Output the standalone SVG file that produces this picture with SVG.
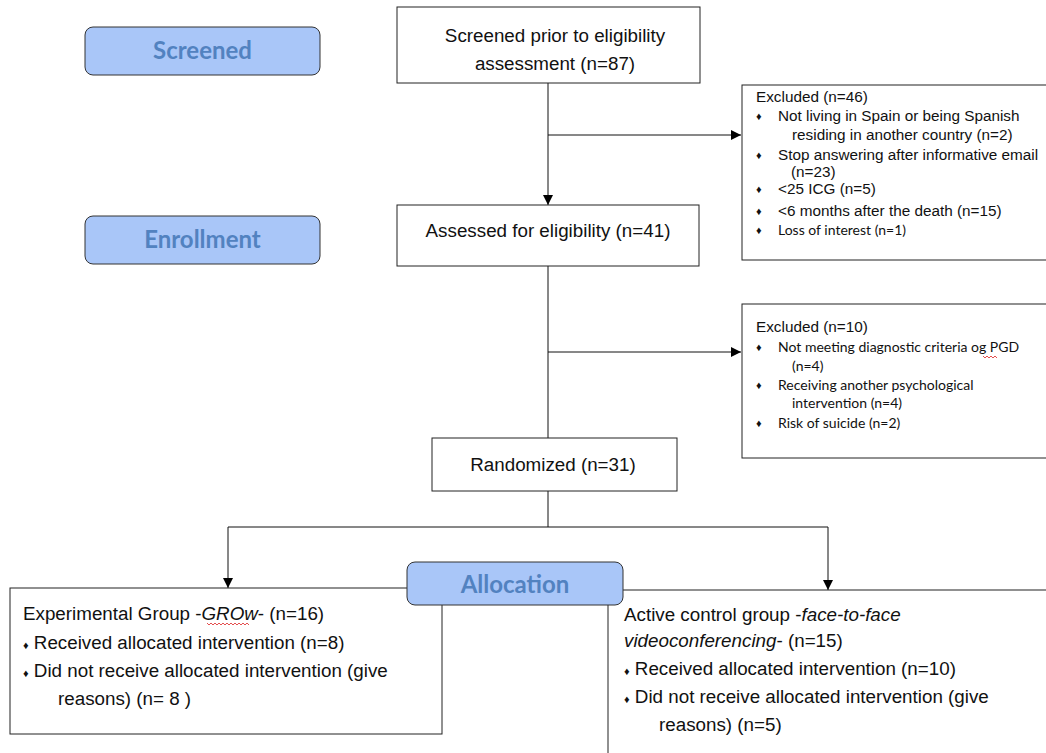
<svg xmlns="http://www.w3.org/2000/svg" width="1046" height="753" viewBox="0 0 1046 753">
<style>
.box{fill:#fff;stroke:#222;stroke-width:1}
.lab{fill:#a9c6f8;stroke:#333;stroke-width:1}
.labt{font-family:Lato,"Open Sans",sans-serif;font-weight:bold;font-size:24px;fill:#5282c0;text-anchor:middle}
.t{font-family:"Liberation Sans",Arial,sans-serif;font-size:18.8px;fill:#111}
.s{font-family:"Liberation Sans",Arial,sans-serif;font-size:15.3px;fill:#111}
.c{font-family:Lato,"Open Sans",sans-serif;font-size:14px;fill:#111}
.d{font-family:"Liberation Sans",Arial,sans-serif;font-size:11px;fill:#111}
.m{text-anchor:middle}
.ln{stroke:#111;stroke-width:1;fill:none}
.sq{stroke:#d22;stroke-width:0.8;fill:none}
</style>
<defs>
<marker id="ar" viewBox="0 0 10 10" refX="10" refY="5" markerWidth="10" markerHeight="10" markerUnits="userSpaceOnUse" orient="auto">
<path d="M0,0 L10,5 L0,10 z" fill="#000"/>
</marker>
</defs>
<g id="connectors">
<path class="ln" d="M548,83 V205" marker-end="url(#ar)"/>
<path class="ln" d="M548,135 H741" marker-end="url(#ar)"/>
<path class="ln" d="M548,266 V438"/>
<path class="ln" d="M548,352 H741" marker-end="url(#ar)"/>
<path class="ln" d="M548,491 V527"/>
<path class="ln" d="M228,527 H828"/>
<path class="ln" d="M228,527 V588" marker-end="url(#ar)"/>
<path class="ln" d="M828,527 V590" marker-end="url(#ar)"/>
</g>
<g id="label-screened">
<rect class="lab" x="85" y="27" width="235" height="48" rx="8"/>
<text class="labt" x="202.5" y="59">Screened</text>
</g>
<g id="label-enrollment">
<rect class="lab" x="85" y="216" width="235" height="48" rx="8"/>
<text class="labt" x="202.5" y="248">Enrollment</text>
</g>
<g id="screened">
<rect class="box" x="397" y="7" width="303" height="76"/>
<text class="t m" x="555" y="42">Screened prior to eligibility</text>
<text class="t m" x="555" y="70">assessment (n=87)</text>
</g>
<g id="excluded1">
<rect class="box" x="742" y="85" width="310" height="175"/>
<text class="s" x="756" y="102">Excluded (n=46)</text>
<text class="d" x="756" y="120">♦</text><text class="s" x="778" y="121">Not living in Spain or being Spanish</text>
<text class="s" x="792" y="140">residing in another country (n=2)</text>
<text class="d" x="756" y="159">♦</text><text class="s" x="778" y="160">Stop answering after informative email</text>
<text class="s" x="791" y="177">(n=23)</text>
<text class="d" x="756" y="193">♦</text><text class="s" x="778" y="194">&lt;25 ICG (n=5)</text>
<text class="d" x="756" y="215">♦</text><text class="s" x="778" y="216">&lt;6 months after the death (n=15)</text>
<text class="d" x="756" y="234">♦</text><text class="c" x="778" y="235">Loss of interest (n=1)</text>
</g>
<g id="assessed">
<rect class="box" x="397" y="205" width="302" height="61"/>
<text class="t m" x="548" y="237">Assessed for eligibility (n=41)</text>
</g>
<g id="excluded2">
<rect class="box" x="742" y="304" width="310" height="154"/>
<text class="s" x="756" y="332">Excluded (n=10)</text>
<text class="d" x="756" y="351">♦</text><text class="c" x="778" y="352">Not meeting diagnostic criteria og PGD</text>
<path class="sq" d="M983,356 l2,2 l2,-2 l2,2 l2,-2 l2,2 l2,-2 l2,2"/>
<text class="c" x="792" y="371">(n=4)</text>
<text class="d" x="756" y="389">♦</text><text class="c" x="778" y="390">Receiving another psychological</text>
<text class="c" x="792" y="408">intervention (n=4)</text>
<text class="d" x="756" y="427">♦</text><text class="c" x="778" y="428">Risk of suicide (n=2)</text>
</g>
<g id="randomized">
<rect class="box" x="432" y="438" width="245" height="53"/>
<text class="t m" x="553" y="471">Randomized (n=31)</text>
</g>
<g id="experimental">
<rect class="box" x="10" y="588" width="432" height="146"/>
<text class="t" x="23" y="620">Experimental Group -<tspan font-style="italic">GROw</tspan>- (n=16)</text>
<path class="sq" d="M207,623 l2,2 l2,-2 l2,2 l2,-2 l2,2 l2,-2 l2,2 l2,-2 l2,2 l2,-2 l2,2 l2,-2 l2,2 l2,-2 l2,2 l2,-2 l2,2 l2,-2 l2,2 l2,-2 l2,2"/>
<text class="t" x="23" y="649"><tspan font-size="11">♦</tspan> Received allocated intervention (n=8)</text>
<text class="t" x="23" y="677"><tspan font-size="11">♦</tspan> Did not receive allocated intervention (give</text>
<text class="t" x="58" y="705">reasons) (n= 8 )</text>
</g>
<g id="control">
<rect class="box" x="608" y="590" width="450" height="180"/>
<text class="t" x="624" y="621">Active control group -<tspan font-style="italic">face-to-face</tspan></text>
<text class="t" x="624" y="647"><tspan font-style="italic">videoconferencing</tspan>- (n=15)</text>
<text class="t" x="624" y="675"><tspan font-size="11">♦</tspan> Received allocated intervention (n=10)</text>
<text class="t" x="624" y="703"><tspan font-size="11">♦</tspan> Did not receive allocated intervention (give</text>
<text class="t" x="659" y="731">reasons) (n=5)</text>
</g>
<g id="label-allocation">
<rect class="lab" x="407" y="562" width="216" height="43" rx="8"/>
<text class="labt" x="515" y="593">Allocation</text>
</g>
</svg>
